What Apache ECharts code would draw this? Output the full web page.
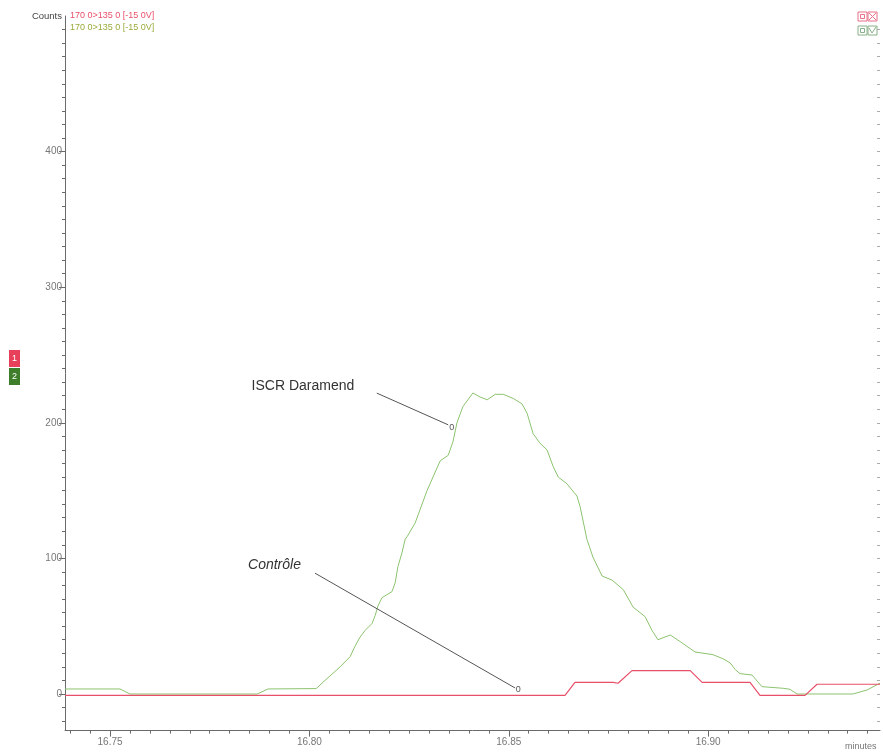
<!DOCTYPE html>
<html>
<head>
<meta charset="utf-8">
<script src="https://cdn.jsdelivr.net/npm/echarts@6/dist/echarts.min.js"></script>
<style>
html,body{margin:0;padding:0;background:#fff;}
#main{width:883px;height:753px;}
</style>
</head>
<body>
<div id="main"></div>
<script>
// ISCR Daramend trace (green), minutes / counts
var daramendTime = [16.7387,16.7525,16.7550,16.7869,16.7896,16.8017,16.8039,16.8077,16.8102,16.8114,16.8127,16.8140,16.8157,16.8165,16.8172,16.8182,16.8207,16.8215,16.8222,16.8232,16.8240,16.8245,16.8265,16.8295,16.8328,16.8348,16.8360,16.8370,16.8385,16.8410,16.8428,16.8446,16.8466,16.8486,16.8511,16.8533,16.8546,16.8561,16.8578,16.8596,16.8611,16.8624,16.8646,16.8671,16.8679,16.8696,16.8711,16.8734,16.8759,16.8787,16.8812,16.8842,16.8859,16.8874,16.8905,16.8930,16.8967,16.9012,16.9037,16.9055,16.9068,16.9080,16.9110,16.9135,16.9188,16.9205,16.9223,16.9363,16.9399,16.9431];
var daramendCounts = [3.7,3.7,0,0,3.7,4,10,20,27.5,35,42,47,52,58,65,71,75.5,82,94,104,114,116,126,150,172,176,186,200,212,222,219,217,221,221,218,214,207,192,185,180,168,160,155,146,138,114,101,87,84,77,64,57,47,40,43.5,38.6,31,29,26,23,18,15,14,5.4,4.2,3.5,0,0,3,8];

// Controle trace (red)
var controleTime = [16.7387,16.8641,16.8666,16.8762,16.8774,16.8809,16.8955,16.8985,16.9105,16.9130,16.9243,16.9273,16.9431];
var controleCounts = [-1,-1,8.6,8.6,7.9,17.2,17.2,8.6,8.6,-1,-1,7.2,7.2];

var yLabels = [0,100,200,300,400];
var xLabels = [16.75,16.80,16.85,16.90];
var traceName = '170 0>135 0 [-15 0V]';

var xMin = 16.7387, xMax = 16.9431, yMin = -27, yMax = 500;

function zip(a,b){
    var out = [];
    for(var i=0;i<a.length;i++){ out.push([a[i],b[i]]); }
    return out;
}
var yMinor = [];
for(var v=-20; v<=490; v+=10){ yMinor.push(v); }
var xMinor = [];
for(var k=0; k<=40; k++){ xMinor.push(+(16.740 + k*0.005).toFixed(3)); }

var axisGray = '#6a6a6a';
var green = '#8cc36e';
var red = '#e8506a';

var myChart = echarts.init(document.getElementById('main'));
var option = {
    animation: false,
    grid: {left: 65, right: 3, top: 16, bottom: 22.4},
    xAxis: [
        {
            type: 'value', min: xMin, max: xMax, position: 'bottom',
            axisLine: {onZero: false, lineStyle: {color: axisGray, width: 1}},
            axisTick: {customValues: xMinor, length: 3, lineStyle: {color: axisGray}},
            axisLabel: {show: false},
            splitLine: {show: false}
        },
        {
            type: 'value', min: xMin, max: xMax, position: 'bottom',
            axisLine: {show: false, onZero: false},
            axisTick: {customValues: xLabels, length: 6, lineStyle: {color: axisGray}},
            axisLabel: {
                customValues: xLabels, color: '#777', fontSize: 10, margin: 7,
                fontFamily: 'Liberation Sans',
                formatter: function(val){ return val.toFixed(2); }
            },
            splitLine: {show: false}
        }
    ],
    yAxis: [
        {
            type: 'value', min: yMin, max: yMax, position: 'left',
            axisLine: {show: true, onZero: false, lineStyle: {color: axisGray, width: 1}},
            axisTick: {customValues: yMinor, length: 3, lineStyle: {color: axisGray}},
            axisLabel: {show: false},
            splitLine: {show: false}
        },
        {
            type: 'value', min: yMin, max: yMax, position: 'left',
            axisLine: {show: false, onZero: false},
            axisTick: {customValues: yLabels, length: 6, lineStyle: {color: axisGray}},
            axisLabel: {
                customValues: yLabels, color: '#777', fontSize: 10, margin: 3,
                fontFamily: 'Liberation Sans'
            },
            splitLine: {show: false}
        },
        {
            type: 'value', min: yMin, max: yMax, position: 'right',
            axisLine: {show: false, onZero: false},
            axisTick: {customValues: yMinor, inside: true, length: 3, lineStyle: {color: '#aaa'}},
            axisLabel: {show: false},
            splitLine: {show: false}
        }
    ],
    series: [
        {
            name: 'Controle', type: 'line', xAxisIndex: 0, yAxisIndex: 0,
            data: zip(controleTime, controleCounts),
            showSymbol: false, lineStyle: {color: red, width: 1.2}, z: 3
        },
        {
            name: 'ISCR Daramend', type: 'line', xAxisIndex: 0, yAxisIndex: 0,
            data: zip(daramendTime, daramendCounts),
            showSymbol: false, lineStyle: {color: green, width: 1}, z: 2,
            markLine: {
                silent: true, symbol: ['none','none'],
                label: {show: false},
                lineStyle: {color: '#555', width: 1, type: 'solid'},
                data: [
                    [{coord: [16.8169, 221.9]}, {coord: [16.8348, 198.5]}],
                    [{coord: [16.8014, 89.1]}, {coord: [16.8516, 4.4]}]
                ]
            }
        }
    ]
};
myChart.setOption(option);

// annotation texts placed in data coordinates
function px(t, v){ return myChart.convertToPixel({xAxisIndex: 0, yAxisIndex: 0}, [t, v]); }
var pIscr = px(16.7855, 227.3);
var pCtrl = px(16.7846, 95.2);
var pMark1 = px(16.8357, 196.3);
var pMark2 = px(16.8524, 3);

myChart.setOption({
    graphic: [
        {type: 'text', x: 62, y: 11, style: {text: 'Counts', fill: '#444', font: '9.5px "Liberation Sans"', align: 'right'}},
        {type: 'text', left: 70, top: 11, style: {text: traceName, fill: red, font: '9px "Liberation Sans"'}},
        {type: 'text', left: 70, top: 23, style: {text: traceName, fill: '#9aab3c', font: '9px "Liberation Sans"'}},
        {type: 'text', x: pIscr[0], y: pIscr[1], style: {text: 'ISCR Daramend', fill: '#333', font: '14px "Liberation Sans"', verticalAlign: 'middle'}},
        {type: 'text', x: pCtrl[0], y: pCtrl[1], style: {text: 'Contrôle', fill: '#333', font: 'italic 14px "Liberation Sans"', verticalAlign: 'middle'}},
        {type: 'text', x: pMark1[0], y: pMark1[1], style: {text: '0', fill: '#555', font: '9px "Liberation Sans"', align: 'center', verticalAlign: 'middle'}},
        {type: 'text', x: pMark2[0], y: pMark2[1], style: {text: '0', fill: '#555', font: '9px "Liberation Sans"', align: 'center', verticalAlign: 'middle'}},
        {type: 'text', left: 845, top: 742, style: {text: 'minutes', fill: '#777', font: '9px "Liberation Sans"'}},
        // left trace markers
        {type: 'rect', shape: {x: 9, y: 350, width: 11, height: 17}, style: {fill: '#e8405a'}},
        {type: 'text', x: 14.5, y: 358.5, style: {text: '1', fill: '#fff', font: '9px "Liberation Sans"', align: 'center', verticalAlign: 'middle'}},
        {type: 'rect', shape: {x: 9, y: 368, width: 11, height: 17}, style: {fill: '#3e7d2a'}},
        {type: 'text', x: 14.5, y: 376.5, style: {text: '2', fill: '#fff', font: '9px "Liberation Sans"', align: 'center', verticalAlign: 'middle'}},
        // top right toggles
        {type: 'rect', shape: {x: 858, y: 12, width: 9, height: 9}, style: {fill: 'none', stroke: '#e8708a', lineWidth: 1}},
        {type: 'rect', shape: {x: 860.5, y: 14.5, width: 4, height: 4}, style: {fill: 'none', stroke: '#e8708a', lineWidth: 1}},
        {type: 'rect', shape: {x: 868, y: 12, width: 9, height: 9}, style: {fill: 'none', stroke: '#e8708a', lineWidth: 1}},
        {type: 'polyline', shape: {points: [[869, 13], [876, 20]]}, style: {stroke: '#e8708a', lineWidth: 1}},
        {type: 'polyline', shape: {points: [[876, 13], [869, 20]]}, style: {stroke: '#e8708a', lineWidth: 1}},
        {type: 'rect', shape: {x: 858, y: 26, width: 9, height: 9}, style: {fill: 'none', stroke: '#88b088', lineWidth: 1}},
        {type: 'rect', shape: {x: 860.5, y: 28.5, width: 4, height: 4}, style: {fill: 'none', stroke: '#88b088', lineWidth: 1}},
        {type: 'rect', shape: {x: 868, y: 26, width: 9, height: 9}, style: {fill: 'none', stroke: '#88b088', lineWidth: 1}},
        {type: 'polyline', shape: {points: [[869, 28], [872, 33], [876, 27]]}, style: {stroke: '#88b088', lineWidth: 1}}
    ]
});
</script>
</body>
</html>
